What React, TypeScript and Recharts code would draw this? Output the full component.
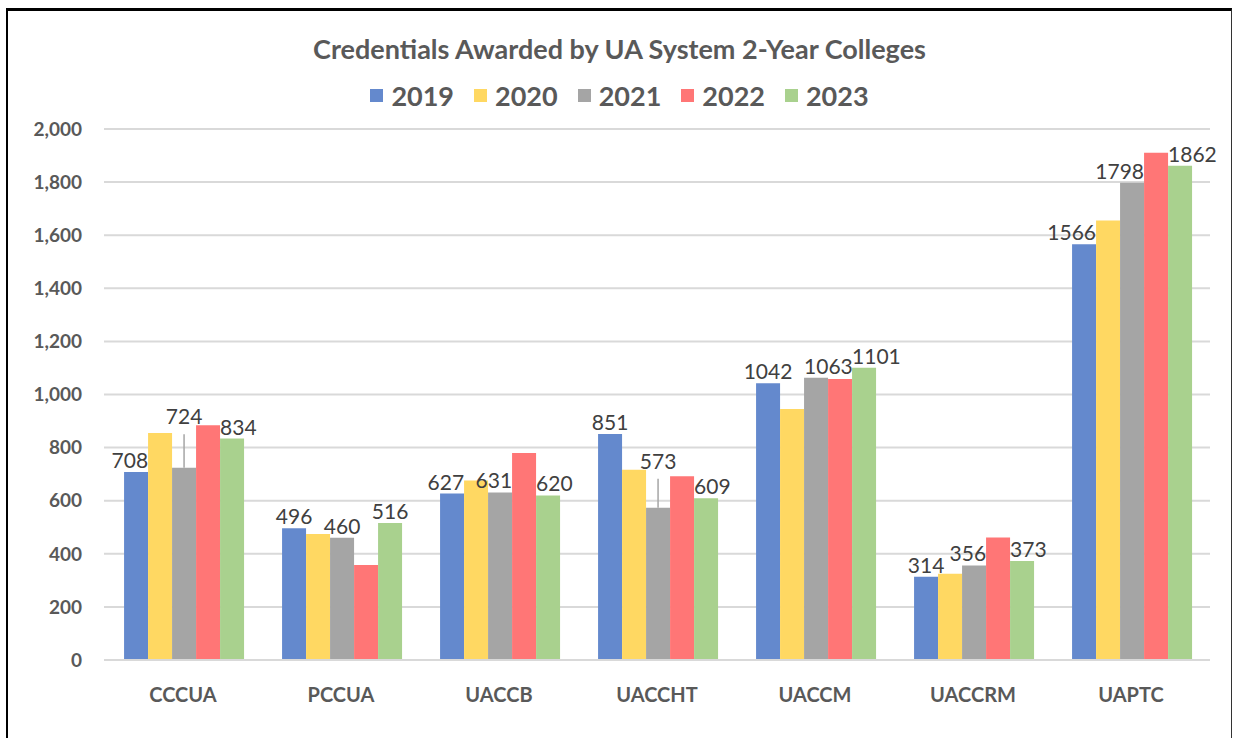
import { Bar, BarChart, CartesianGrid, LabelList, XAxis, YAxis } from "recharts";

const colleges = ["CCCUA", "PCCUA", "UACCB", "UACCHT", "UACCM", "UACCRM", "UAPTC"];
const y2019 = [708, 496, 627, 851, 1042, 314, 1566];
const y2020 = [855, 475, 676, 717, 945, 325, 1655];
const y2021 = [724, 460, 631, 573, 1063, 356, 1798];
const y2022 = [884, 358, 780, 692, 1058, 461, 1911];
const y2023 = [834, 516, 620, 609, 1101, 373, 1862];
const yTicks = [0, 200, 400, 600, 800, 1000, 1200, 1400, 1600, 1800, 2000];

const SERIES = [
  { key: "2019", values: y2019, color: "#6489CD", labelled: true },
  { key: "2020", values: y2020, color: "#FFD862", labelled: false },
  { key: "2021", values: y2021, color: "#A5A5A5", labelled: true },
  { key: "2022", values: y2022, color: "#FF7676", labelled: false },
  { key: "2023", values: y2023, color: "#A9D18E", labelled: true },
];

const data = colleges.map((c, i) => {
  const row: Record<string, string | number> = { college: c };
  SERIES.forEach((s) => (row[s.key] = s.values[i]));
  return row;
});

const FONT = "Lato, 'Open Sans', sans-serif";
const TEXT = "#595959";
const LABEL_TEXT = "#404040";

// Excel-ish label placement: nudge away from taller neighbours,
// lift the middle label with a leader line when both sides are taller.
function makeLabel(seriesIdx: number) {
  return (props: any) => {
    const { x, y, width, height, value, index } = props;
    const v = Number(value);
    const perUnit = Number(height) / v;
    const base = Number(y) + Number(height);
    const topOf = (val: number) => base - val * perUnit;
    const left = SERIES[seriesIdx - 1]?.values[index];
    const right = SERIES[seriesIdx + 1]?.values[index];
    const cx = Number(x) + Number(width) / 2;
    let tx = cx;
    let anchor: "middle" | "start" | "end" = "middle";
    let ty = Number(y) - 4;
    let leader = false;

    if (left !== undefined && right !== undefined && left > v + 60 && right > v + 60) {
      ty = Math.min(topOf(left), topOf(right)) - 1;
      leader = true;
    } else if (right !== undefined && right > v + 20) {
      tx = Number(x) + Number(width);
      anchor = "end";
    } else if (left !== undefined && (left > v + 20 || v >= 1000)) {
      tx = Number(x);
      anchor = "start";
    }

    return (
      <g>
        {leader && (
          <line x1={cx} y1={ty + 10} x2={cx} y2={Number(y)} stroke="#A5A5A5" strokeWidth={1.5} />
        )}
        <text x={tx} y={ty} textAnchor={anchor} fontFamily={FONT} fontSize={21} fill={LABEL_TEXT}>
          {v}
        </text>
      </g>
    );
  };
}

export default function App() {
  return (
    <div
      style={{
        position: "absolute",
        left: 6,
        top: 8,
        width: 1226,
        height: 760,
        borderTop: "3px solid #000",
        borderLeft: "2px solid #000",
        borderRight: "1px solid #333",
        boxSizing: "border-box",
        background: "#fff",
      }}
    >
      <div
        style={{
          position: "absolute",
          top: 21,
          left: 0,
          width: "100%",
          textAlign: "center",
          fontFamily: FONT,
          fontWeight: 700,
          fontSize: 27,
          color: TEXT,
        }}
      >
        Credentials Awarded by UA System 2-Year Colleges
      </div>
      <div
        style={{
          position: "absolute",
          top: 68,
          left: 0,
          width: "100%",
          display: "flex",
          justifyContent: "center",
          gap: 20,
          fontFamily: FONT,
          fontWeight: 700,
          fontSize: 27,
          color: TEXT,
        }}
      >
        {SERIES.map((s) => (
          <div key={s.key} style={{ display: "flex", alignItems: "center" }}>
            <span style={{ width: 13, height: 13, background: s.color, marginRight: 8 }} />
            {s.key}
          </div>
        ))}
      </div>
      <div style={{ position: "absolute", left: 0, top: 0 }}>
        <BarChart
          width={1223}
          height={727}
          data={data}
          margin={{ top: 118, right: 21, bottom: 38, left: 0 }}
          barCategoryGap="12.7%"
          barGap={0}
        >
          <CartesianGrid vertical={false} stroke="#D9D9D9" strokeWidth={2} />
          <XAxis
            dataKey="college"
            height={40}
            tickLine={false}
            axisLine={{ stroke: "#D9D9D9", strokeWidth: 2 }}
            tickMargin={22}
            tick={{ fontFamily: FONT, fontWeight: 700, fontSize: 20, fill: TEXT }}
          />
          <YAxis
            width={96}
            domain={[0, 2000]}
            ticks={yTicks}
            interval={0}
            tickLine={false}
            axisLine={false}
            tickMargin={16}
            tickFormatter={(v: number) => v.toLocaleString("en-US")}
            tick={{ fontFamily: FONT, fontWeight: 700, fontSize: 19, fill: TEXT }}
          />
          {SERIES.map((s, si) => (
            <Bar key={s.key} dataKey={s.key} fill={s.color} isAnimationActive={false}>
              {s.labelled && <LabelList dataKey={s.key} content={makeLabel(si)} />}
            </Bar>
          ))}
        </BarChart>
      </div>
    </div>
  );
}
